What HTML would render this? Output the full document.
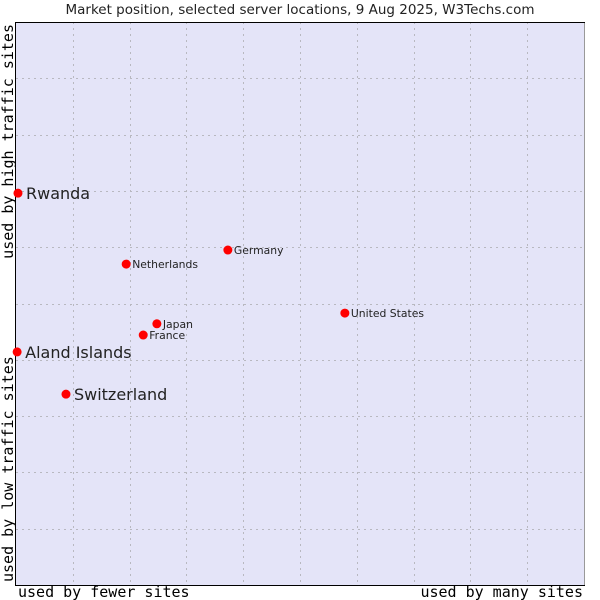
<!DOCTYPE html>
<html><head><meta charset="utf-8"><style>
html,body{margin:0;padding:0;background:#fff;}
svg{display:block;}
</style></head><body>
<svg id="chart" width="600" height="600" xmlns="http://www.w3.org/2000/svg">
<text x="300" y="14" text-anchor="middle" font-family="DejaVu Sans, sans-serif" font-size="13.5" fill="#222">Market position, selected server locations, 9 Aug 2025, W3Techs.com</text>
<rect x="16" y="22" width="568" height="563" fill="#e4e4f8"/>
<g id="grid"></g>
<line x1="584.5" y1="22" x2="584.5" y2="585" stroke="#999"/>
<line x1="16" y1="22.5" x2="585" y2="22.5" stroke="#000"/>
<line x1="15.5" y1="22" x2="15.5" y2="586" stroke="#000"/>
<line x1="15" y1="585.5" x2="585" y2="585.5" stroke="#000"/>
<text x="18" y="597" font-family="DejaVu Sans Mono, monospace" font-size="15" fill="#000">used by fewer sites</text>
<text x="583" y="597" text-anchor="end" font-family="DejaVu Sans Mono, monospace" font-size="15" fill="#000">used by many sites</text>
<text transform="translate(13,582) rotate(-90)" font-family="DejaVu Sans Mono, monospace" font-size="15" fill="#000">used by low traffic sites</text>
<text transform="translate(13,24) rotate(-90)" text-anchor="end" font-family="DejaVu Sans Mono, monospace" font-size="15" fill="#000">used by high traffic sites</text>
<g id="points"></g>
</svg>
<script>
const names = ["Rwanda","Aland Islands","Switzerland","Netherlands","Germany","Japan","France","United States"];
const xValues = [0.35,0.2,8.8,19.4,37.3,24.8,22.4,57.9];
const yValues = [69.6,41.4,33.9,57.0,59.5,46.4,44.4,48.3];
const bigLabel = [true,true,true,false,false,false,false,false];
const NS="http://www.w3.org/2000/svg";
const X0=16,X1=584,Y0=585,Y1=22;
function sx(v){return X0+(X1-X0)*v/100;}
function sy(v){return Y0-(Y0-Y1)*v/100;}
const grid=document.getElementById('grid');
for(let i=1;i<10;i++){
  const gx=Math.round(sx(i*10))+0.5;
  const l=document.createElementNS(NS,'line');
  l.setAttribute('x1',gx);l.setAttribute('x2',gx);l.setAttribute('y1',Y1);l.setAttribute('y2',Y0);
  l.setAttribute('stroke','#b8b8c0');l.setAttribute('stroke-dasharray','2,4');
  
  
  grid.appendChild(l);
  const gy=Math.round(sy(i*10))+0.5;
  const h=document.createElementNS(NS,'line');
  h.setAttribute('x1',X0);h.setAttribute('x2',X1);h.setAttribute('y1',gy);h.setAttribute('y2',gy);
  h.setAttribute('stroke','#b8b8c0');h.setAttribute('stroke-dasharray','2,4');
  
  
  grid.appendChild(h);
}
const pts=document.getElementById('points');
names.forEach((n,i)=>{
  const cx=sx(xValues[i]),cy=sy(yValues[i]);
  const c=document.createElementNS(NS,'circle');
  c.setAttribute('cx',cx);c.setAttribute('cy',cy);c.setAttribute('r',4.5);c.setAttribute('fill','#f00');
  
  
  pts.appendChild(c);
  const t=document.createElementNS(NS,'text');
  const big=bigLabel[i];
  t.setAttribute('x',cx+(big?8:6));t.setAttribute('y',cy+(big?6:4));
  t.setAttribute('font-family','DejaVu Sans, sans-serif');
  t.setAttribute('font-size',big?16:10.8);
  t.setAttribute('fill','#222');
  t.textContent=n;
  
  
  pts.appendChild(t);
});
</script>
</body></html>
